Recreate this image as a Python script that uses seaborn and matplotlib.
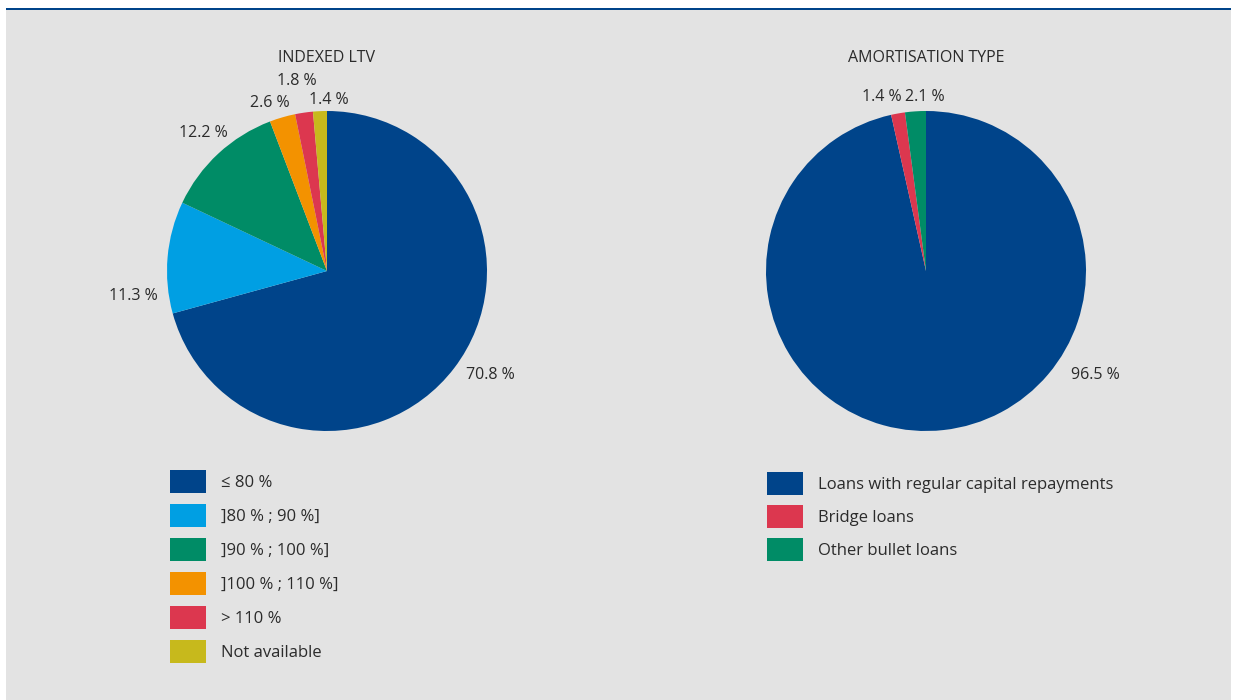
import matplotlib
matplotlib.use("Agg")
import matplotlib.pyplot as plt
import seaborn as sns
import numpy as np
from matplotlib.patches import Patch, Rectangle

# Data
ltv_labels = ["\u2264 80 %", "]80 % ; 90 %]", "]90 % ; 100 %]", "]100 % ; 110 %]", "> 110 %", "Not available"]
ltv_values = [70.8, 11.3, 12.2, 2.6, 1.8, 1.4]
amort_labels = ["Loans with regular capital repayments", "Bridge loans", "Other bullet loans"]
amort_values = [96.5, 1.4, 2.1]

# Colours
DARK_BLUE = "#00448a"
ltv_colors = [DARK_BLUE, "#009fe3", "#008c66", "#f39200", "#dc374f", "#c7b91c"]
amort_colors = [DARK_BLUE, "#dc374f", "#008c66"]
BG = "#e3e3e3"
TXT = "#2b2b2b"

# label placement (angle deg, radius factor) for each pct label
ltv_label_pos = [(-32.5, 1.21), (187.3, 1.22), (131.9, 1.16), (108.7, 1.11), (99.0, 1.20), (89.3, 1.07)]
amort_label_pos = [(-31.6, 1.24), (104.2, 1.12), (90.3, 1.09)]

sns.set_theme(style="white")
plt.rcParams["font.family"] = ["Open Sans", "DejaVu Sans"]

W, H = 1237, 700
fig = plt.figure(figsize=(W / 100, H / 100), dpi=100)
fig.patch.set_facecolor("white")
fig.patches.append(Rectangle((6 / W, 0), (1231 - 6) / W, (H - 10) / H, transform=fig.transFigure,
                             facecolor=BG, edgecolor="none", zorder=-2))
fig.patches.append(Rectangle((6 / W, (H - 10) / H), (1231 - 6) / W, 2.5 / H, transform=fig.transFigure,
                             facecolor=DARK_BLUE, edgecolor="none", zorder=-1))

R = 160  # pie radius px
L = 1.5
FS = 11.5


def draw_pie(cx, cy, values, colors, title, label_pos):
    ax = fig.add_axes([(cx - L * R) / W, (H - cy - L * R) / H, 2 * L * R / W, 2 * L * R / H])
    ax.set_facecolor("none")
    ax.pie(values, colors=colors, startangle=90, counterclock=False, radius=1,
           wedgeprops=dict(linewidth=0))
    for v, (ang, dist) in zip(values, label_pos):
        a = np.deg2rad(ang)
        ax.text(dist * np.cos(a), dist * np.sin(a), f"{v:.1f} %", ha="center", va="center",
                fontsize=FS, color=TXT)
    ax.text(0, 1.33, title, ha="center", va="center", fontsize=FS, color=TXT)
    ax.set_xlim(-L, L)
    ax.set_ylim(-L, L)
    ax.set_aspect("equal")
    ax.axis("off")
    return ax


draw_pie(327, 271, ltv_values, ltv_colors, "INDEXED LTV", ltv_label_pos)
draw_pie(926, 271, amort_values, amort_colors, "AMORTISATION TYPE", amort_label_pos)


def draw_legend(x, y, labels, colors, spacing):
    handles = [Patch(facecolor=c, edgecolor="none") for c in colors]
    fs = 12
    fpx = fs * 100 / 72
    # handle box height = fs*hh - 0.35*fs*(hh-0.7); solve for 23 px
    hh = (23 / fpx - 0.245) / 0.65
    leg = fig.legend(handles, labels, loc="upper left", bbox_to_anchor=(x / W, 1 - y / H),
                     frameon=False, fontsize=fs, borderpad=0, borderaxespad=0,
                     handlelength=36 / fpx, handleheight=hh, handletextpad=15 / fpx,
                     labelspacing=(spacing - 23) / fpx)
    for t in leg.get_texts():
        t.set_color(TXT)
    return leg


draw_legend(170, 470, ltv_labels, ltv_colors, 34)
draw_legend(767, 472, amort_labels, amort_colors, 33)

fig.savefig("out.png", dpi=100, facecolor=fig.get_facecolor())
